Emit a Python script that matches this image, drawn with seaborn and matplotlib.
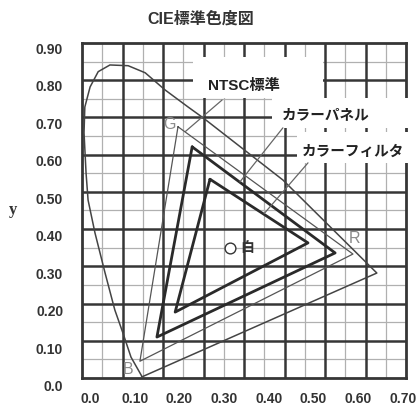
import numpy as np
import pandas as pd
import matplotlib
matplotlib.use("Agg")
import matplotlib.pyplot as plt
from matplotlib.patches import Rectangle
import matplotlib.transforms as mtransforms
import seaborn as sns

sns.set_style("white")
plt.rcParams['font.family'] = ['Liberation Sans', 'Noto Sans CJK JP', 'DejaVu Sans']

# ---- data (CIE x, y) ----
locus_x = [0.148, 0.146, 0.121, 0.101, 0.081, 0.057, 0.032, 0.015, 0.010, 0.005,
           0.007, 0.020, 0.040, 0.069, 0.114, 0.156, 0.205, 0.262, 0.299, 0.496,
           0.728, 0.148]
locus_y = [0.003, 0.008, 0.056, 0.121, 0.183, 0.282, 0.390, 0.478, 0.551, 0.659,
           0.728, 0.782, 0.823, 0.841, 0.839, 0.820, 0.774, 0.728, 0.699, 0.532,
           0.282, 0.003]

ntsc_x = [0.237, 0.669, 0.143, 0.237]
ntsc_y = [0.675, 0.333, 0.045, 0.675]

panel_x = [0.272, 0.625, 0.185, 0.272]
panel_y = [0.621, 0.336, 0.110, 0.621]

filter_x = [0.316, 0.558, 0.230, 0.316]
filter_y = [0.534, 0.363, 0.177, 0.534]

white_x, white_y = [0.365], [0.349]

x_tick_labels = ["0.0", "0.10", "0.20", "0.30", "0.40", "0.50", "0.60", "0.70"]
y_tick_labels = ["0.0", "0.10", "0.20", "0.30", "0.40", "0.50", "0.60", "0.70", "0.80", "0.90"]

title = "CIE標準色度図"
label_ntsc = "NTSC標準"
label_panel = "カラーパネル"
label_filter = "カラーフィルタ"

# ---- figure ----
fig = plt.figure(figsize=(4.17, 4.08), dpi=100)
ax = fig.add_axes([82/417, 30/408, 324/417, 335/408])
ax.set_xlim(0, 0.8)
ax.set_ylim(0, 0.9)

thick_c, thin_c = "#363636", "#b0b0b0"
for v in np.arange(0.05, 0.8, 0.1):
    ax.axvline(v, color=thin_c, lw=0.9, zorder=1)
for v in np.arange(0.05, 0.9, 0.1):
    ax.axhline(v, color=thin_c, lw=0.9, zorder=1)
for v in np.arange(0.1, 0.75, 0.1):
    ax.axvline(v, color=thick_c, lw=1.8, zorder=1.2)
for v in np.arange(0.1, 0.85, 0.1):
    ax.axhline(v, color=thick_c, lw=1.8, zorder=1.2)

for s in ax.spines.values():
    s.set_color(thick_c)
    s.set_linewidth(2.0)
ax.set_xticks([])
ax.set_yticks([])

# white label boxes
for (x0, y0, w, h) in [(0.274, 0.753, 0.321, 0.110),
                       (0.470, 0.672, 0.360, 0.081),
                       (0.531, 0.578, 0.300, 0.083)]:
    ax.add_patch(Rectangle((x0, y0), w, h, facecolor="white", edgecolor="none",
                           zorder=3, clip_on=False))

# curves
sns.lineplot(x=locus_x, y=locus_y, sort=False, estimator=None, ax=ax,
             color="#444444", lw=1.1, zorder=4)
sns.lineplot(x=ntsc_x, y=ntsc_y, sort=False, estimator=None, ax=ax,
             color="#555555", lw=0.9, zorder=4)
sns.lineplot(x=panel_x, y=panel_y, sort=False, estimator=None, ax=ax,
             color="#2a2a2a", lw=2.0, zorder=4)
sns.lineplot(x=filter_x, y=filter_y, sort=False, estimator=None, ax=ax,
             color="#2a2a2a", lw=2.0, zorder=4)

# leader lines
ax.plot([0.346, 0.255], [0.747, 0.662], color="#666666", lw=0.9, zorder=4)
ax.plot([0.496, 0.390], [0.672, 0.527], color="#666666", lw=0.9, zorder=4)
ax.plot([0.558, 0.450], [0.578, 0.442], color="#666666", lw=0.9, zorder=4)

# white point
ax.scatter(white_x, white_y, s=60, facecolor="white", edgecolor="#333333",
           linewidth=1.0, zorder=5)
ax.text(0.392, 0.349, "白", fontsize=10, va="center", ha="left", color="#333333",
        fontweight="bold", zorder=5)

# primaries labels
for t, xx, yy in [("G", 0.217, 0.680), ("R", 0.674, 0.374), ("B", 0.114, 0.022)]:
    ax.text(xx, yy, t, fontsize=11.5, color="#8a8a8a", ha="center", va="center",
            family=["Liberation Sans"], zorder=5)

# labels
kw = dict(fontweight="bold", color="#222222", ha="center", va="center", zorder=6)
ax.text(0.401, 0.785, label_ntsc, fontsize=11, **kw)
ax.text(0.601, 0.707, label_panel, fontsize=10.5, **kw)
ax.text(0.669, 0.607, label_filter, fontsize=10.5, **kw)

# tick labels (placed as in the reference)
tx = mtransforms.blended_transform_factory(ax.transData, ax.transAxes)
for i, lab in enumerate(x_tick_labels):
    ax.text((8 + 44.7 * i) / 405, -0.062, lab, transform=tx,
            fontsize=10, fontweight="bold", color="#333333", ha="center", va="center")
ty = mtransforms.blended_transform_factory(ax.transAxes, ax.transData)
for i, lab in enumerate(y_tick_labels):
    ax.text(-0.058, (-9 + 37.44 * i) / 372, lab, transform=ty,
            fontsize=10, fontweight="bold", color="#333333", ha="right", va="center")

fig.text(13/417, 1 - 210/408, "y", fontsize=12, fontweight="bold",
         family=["Liberation Serif"], ha="center", va="center", color="#333333")
fig.text(201/417, 1 - 19/408, title, fontsize=11.5, fontweight="bold",
         ha="center", va="center", color="#333333")

fig.savefig("out.png", dpi=100)
